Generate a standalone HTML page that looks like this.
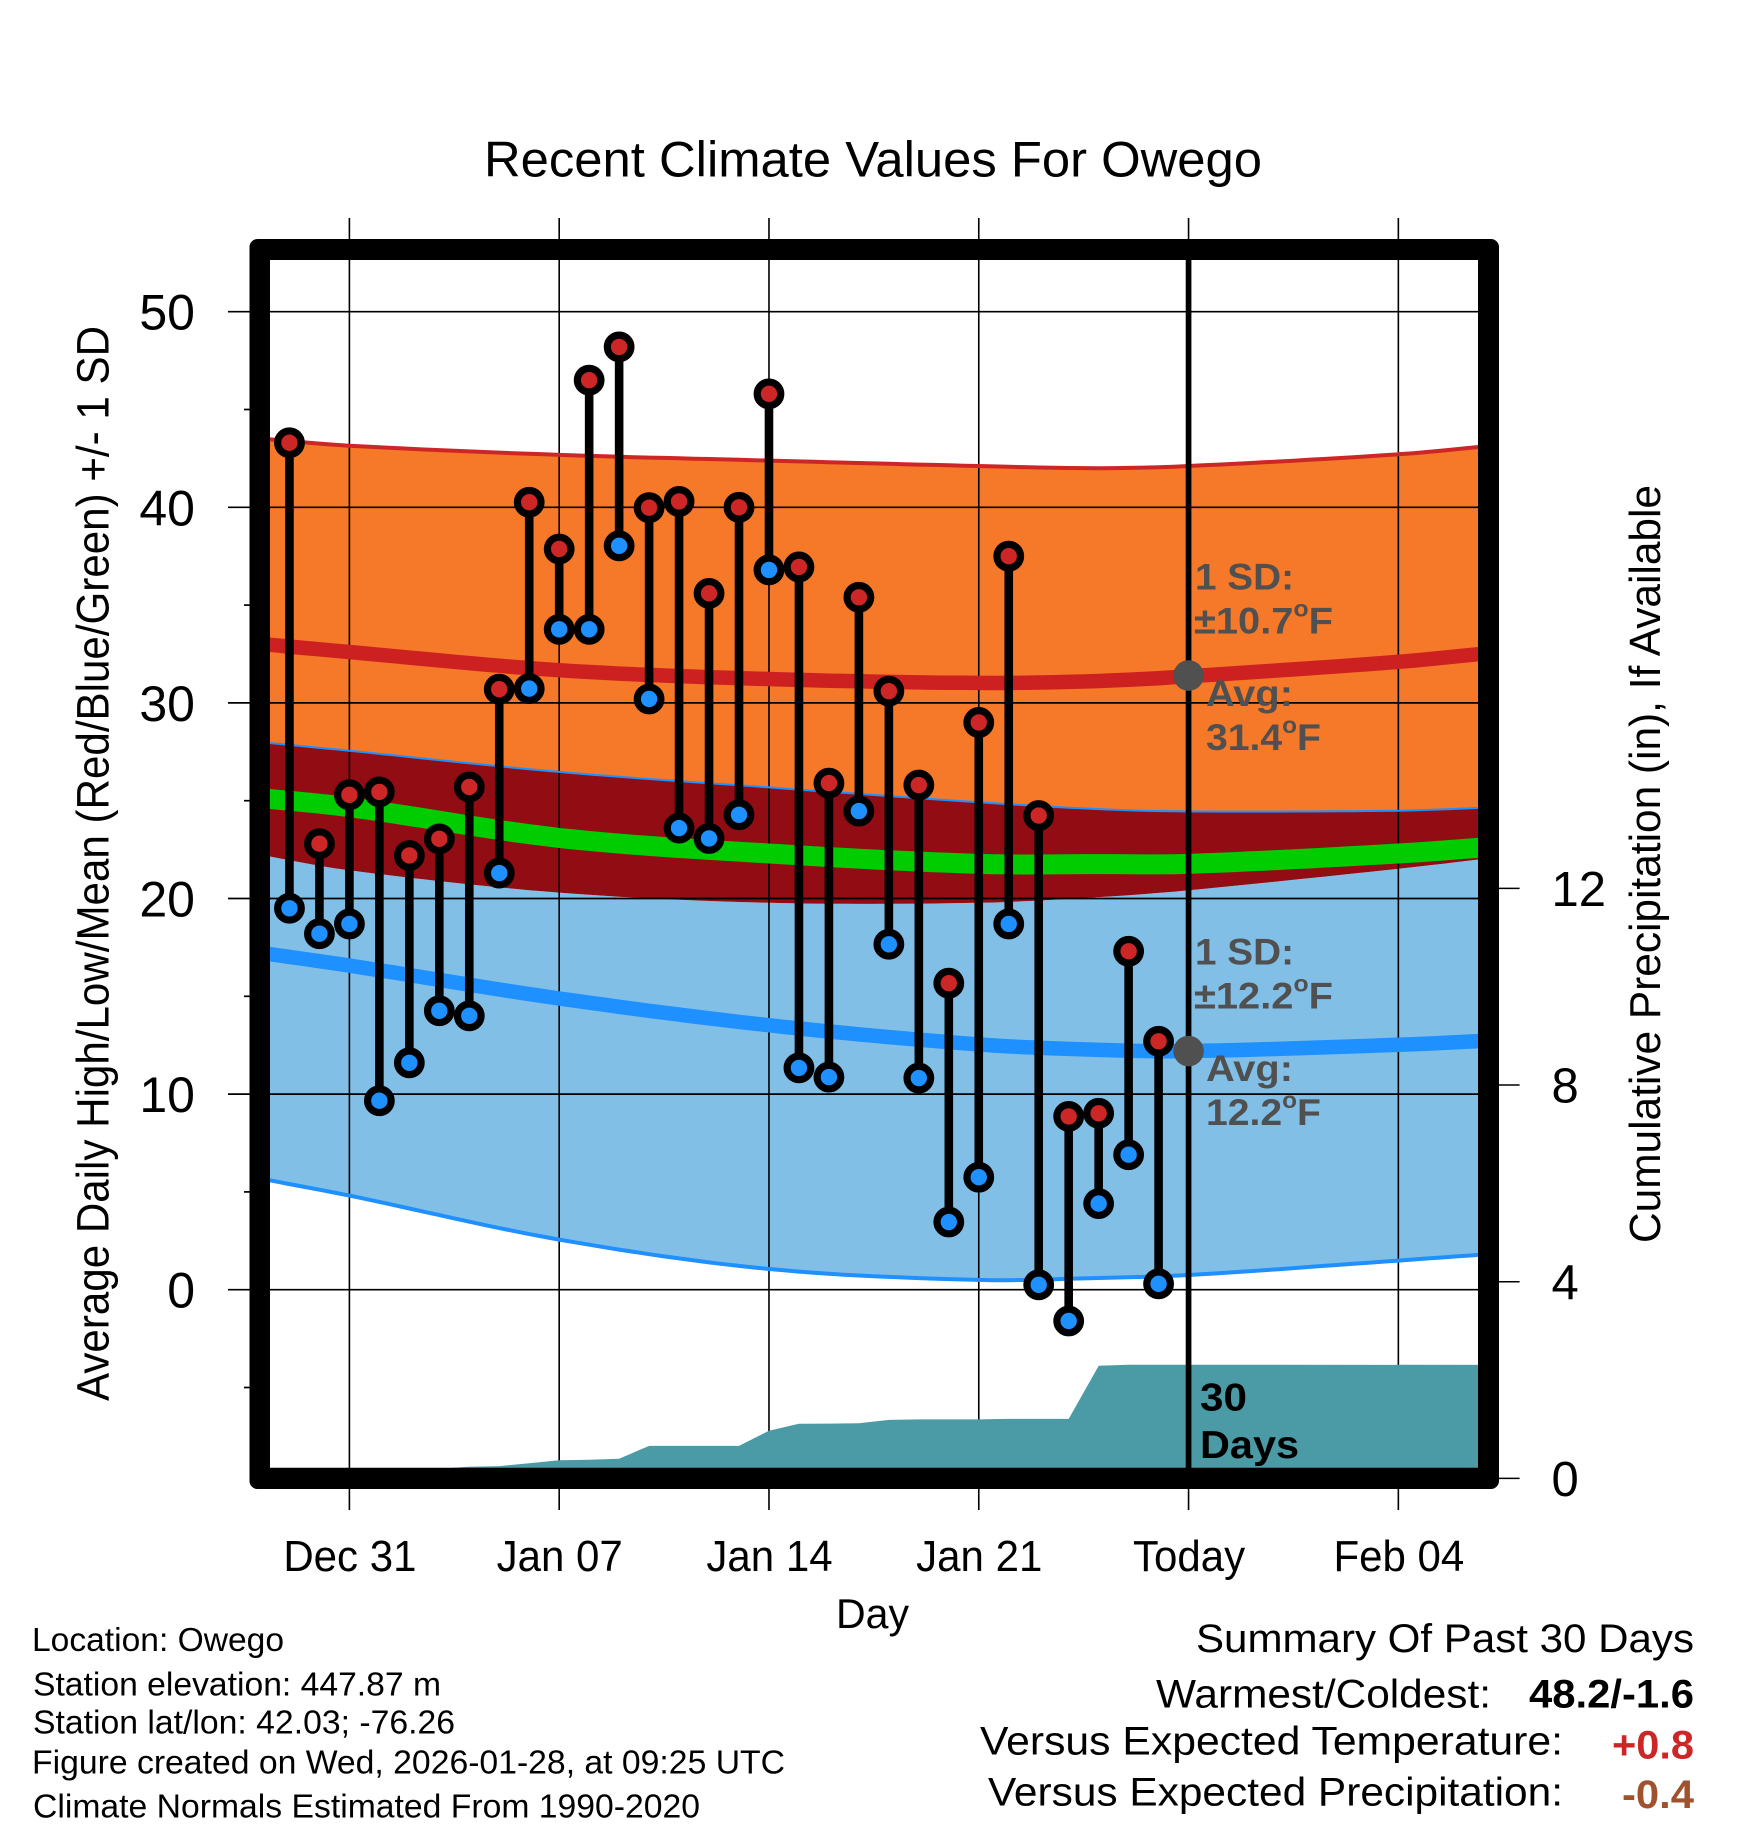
<!DOCTYPE html>
<html lang="en">
<head>
<meta charset="utf-8">
<title>Recent Climate Values For Owego</title>
<style>
html,body{margin:0;padding:0;background:#fff;}
svg{display:block;}
text{font-family:"Liberation Sans",Arial,sans-serif;fill:#000;}
.note{font-size:33px;}
.sum{font-size:40px;}
.sumb{font-size:40px;font-weight:bold;}
.ann{font-size:37px;font-weight:bold;fill:#505050;}
.sup{font-size:23px;}
</style>
</head>
<body>
<svg id="chart" xmlns="http://www.w3.org/2000/svg" width="1748" height="1828" viewBox="0 0 1748 1828">
  <rect x="0" y="0" width="1748" height="1828" fill="#ffffff"/>
  <g id="bands"></g>
  <g id="grid"></g>
  <g id="lines"></g>
  <g id="precip"></g>
  <g id="ticks"></g>
  <g id="today"></g>
  <g id="days"></g>
  <path fill="#000" fill-rule="evenodd" d="M257.5 239 H1491 a8 8 0 0 1 8 8 V1481 a8 8 0 0 1 -8 8 H257.5 a8 8 0 0 1 -8 -8 V247 a8 8 0 0 1 8 -8 Z M270 260 V1467.7 H1478 V260 Z"/>
  <g id="tick-labels"></g>

  <text x="484" y="176.5" font-size="50" textLength="778" lengthAdjust="spacingAndGlyphs">Recent Climate Values For Owego</text>
  <text transform="translate(108.3,1401) rotate(-90)" font-size="45" textLength="1075" lengthAdjust="spacingAndGlyphs">Average Daily High/Low/Mean (Red/Blue/Green) +/- 1 SD</text>
  <text transform="translate(1660,1243) rotate(-90)" font-size="44" textLength="758" lengthAdjust="spacingAndGlyphs">Cumulative Precipitation (in), If Available</text>
  <text x="836" y="1628" font-size="42" textLength="73" lengthAdjust="spacingAndGlyphs">Day</text>

  <text class="ann" x="1195" y="589.4" textLength="99" lengthAdjust="spacingAndGlyphs">1 SD:</text>
  <text class="ann" x="1194" y="633.4" textLength="139" lengthAdjust="spacingAndGlyphs">±10.7<tspan class="sup" dy="-17">o</tspan><tspan dy="17">F</tspan></text>
  <text class="ann" x="1206" y="706.2" textLength="87" lengthAdjust="spacingAndGlyphs">Avg:</text>
  <text class="ann" x="1206" y="750.2" textLength="115" lengthAdjust="spacingAndGlyphs">31.4<tspan class="sup" dy="-17">o</tspan><tspan dy="17">F</tspan></text>
  <text class="ann" x="1195" y="964.5" textLength="99" lengthAdjust="spacingAndGlyphs">1 SD:</text>
  <text class="ann" x="1194" y="1008.5" textLength="139" lengthAdjust="spacingAndGlyphs">±12.2<tspan class="sup" dy="-17">o</tspan><tspan dy="17">F</tspan></text>
  <text class="ann" x="1206" y="1081" textLength="87" lengthAdjust="spacingAndGlyphs">Avg:</text>
  <text class="ann" x="1206" y="1125" textLength="115" lengthAdjust="spacingAndGlyphs">12.2<tspan class="sup" dy="-17">o</tspan><tspan dy="17">F</tspan></text>

  <text x="1200" y="1410.6" font-size="39" font-weight="bold" textLength="47" lengthAdjust="spacingAndGlyphs">30</text>
  <text x="1200" y="1458" font-size="39" font-weight="bold" textLength="99" lengthAdjust="spacingAndGlyphs">Days</text>

  <text class="note" x="32" y="1651" textLength="252" lengthAdjust="spacingAndGlyphs">Location: Owego</text>
  <text class="note" x="33" y="1695.4" textLength="408" lengthAdjust="spacingAndGlyphs">Station elevation: 447.87 m</text>
  <text class="note" x="33" y="1733.6" textLength="422" lengthAdjust="spacingAndGlyphs">Station lat/lon: 42.03; -76.26</text>
  <text class="note" x="32" y="1773.3" textLength="753" lengthAdjust="spacingAndGlyphs">Figure created on Wed, 2026-01-28, at 09:25 UTC</text>
  <text class="note" x="33" y="1817.6" textLength="667" lengthAdjust="spacingAndGlyphs">Climate Normals Estimated From 1990-2020</text>

  <text class="sum" x="1196" y="1651.9" textLength="498" lengthAdjust="spacingAndGlyphs">Summary Of Past 30 Days</text>
  <text class="sum" x="1156" y="1707.4" textLength="335" lengthAdjust="spacingAndGlyphs">Warmest/Coldest:</text>
  <text class="sumb" x="1529" y="1707.4" textLength="165" lengthAdjust="spacingAndGlyphs">48.2/-1.6</text>
  <text class="sum" x="980" y="1754.5" textLength="583" lengthAdjust="spacingAndGlyphs">Versus Expected Temperature:</text>
  <text class="sumb" x="1612" y="1758.6" textLength="82" lengthAdjust="spacingAndGlyphs" style="fill:#cd2626">+0.8</text>
  <text class="sum" x="988" y="1805.7" textLength="575" lengthAdjust="spacingAndGlyphs">Versus Expected Precipitation:</text>
  <text class="sumb" x="1622" y="1807.8" textLength="72" lengthAdjust="spacingAndGlyphs" style="fill:#a0522d">-0.4</text>
</svg>

<script>
// Daily observations, first entry is two days before Dec 31
const firstDay = -2;
const dailyHigh = [43.3,22.8,25.3,25.45,22.2,23.05,25.7,30.7,40.26,37.87,46.5,48.2,39.98,40.3,35.6,40.0,45.8,36.95,25.9,35.4,30.6,25.8,15.67,29.0,37.5,24.24,8.86,9.02,17.3,12.7];
const dailyLow = [19.5,18.2,18.7,9.66,11.6,14.26,14.0,21.3,30.73,33.76,33.76,38.03,30.2,23.6,23.07,24.28,36.8,11.34,10.87,24.47,17.66,10.82,3.46,5.75,18.7,0.25,-1.6,4.4,6.9,0.3];
const dailyPrecip = [0,0,0,0,0,0.2,0.235,0.25,0.31,0.37,0.38,0.40,0.66,0.66,0.66,0.66,0.97,1.11,1.115,1.12,1.19,1.2,1.2,1.2,1.21,1.21,1.21,2.29,2.31,2.31];

// Climatology curves, days counted from Dec 31
const normalDays = [-3,0,7,14,21,25,28,35,38];
const highPlusSd = [43.52,43.15,42.68,42.39,42.11,42.0,42.11,42.71,43.13];
const highMean = [33.02,32.6,31.67,31.22,31.02,31.12,31.36,32.1,32.54];
const highMinusSd = [28.0,27.55,26.47,25.68,24.92,24.57,24.45,24.49,24.65];
const allMean = [25.14,24.67,23.1,22.3,21.77,21.76,21.77,22.3,22.63];
const lowPlusSd = [22.24,21.44,20.3,19.78,19.78,20.07,20.42,21.52,22.05];
const lowMean = [17.23,16.57,14.89,13.52,12.54,12.26,12.2,12.52,12.73];
const lowMinusSd = [5.69,4.81,2.56,1.06,0.5,0.6,0.75,1.49,1.82];

// Axis labels
const tempTicks = [0,10,20,30,40,50];
const tempMinorTicks = [-5,5,15,25,35,45];
const precipTicks = [0,4,8,12];
const dateTickDays = [0,7,14,21,28,35];
const dateTickLabels = ['Dec 31','Jan 07','Jan 14','Jan 21','Today','Feb 04'];
const todayDay = 28;
const todayHighMean = 31.4;
const todayLowMean = 12.2;

function xScale(day){ return 349.4 + 29.97 * day; }
function yScale(temp){ return 1289.7 - 19.56 * temp; }
function yPrecip(inches){ return 1478.4 - 49.17 * inches; }

const NS = 'http://www.w3.org/2000/svg';
function make(parentId, tag, attrs, txt){
  const el = document.createElementNS(NS, tag);
  for (const k in attrs) el.setAttribute(k, attrs[k]);
  if (txt !== undefined) el.textContent = txt;
  document.getElementById(parentId).appendChild(el);
  return el;
}
function hermite(vals, d){
  const n = normalDays.length;
  let i = 0;
  while (i < n - 2 && d > normalDays[i + 1]) i++;
  const slope = function(k){
    const a = Math.max(0, k - 1), b = Math.min(n - 1, k + 1);
    return (vals[b] - vals[a]) / (normalDays[b] - normalDays[a]);
  };
  const h = normalDays[i + 1] - normalDays[i];
  const t = (d - normalDays[i]) / h;
  const t2 = t * t, t3 = t2 * t;
  return (2*t3 - 3*t2 + 1) * vals[i] + (t3 - 2*t2 + t) * h * slope(i) + (-2*t3 + 3*t2) * vals[i + 1] + (t3 - t2) * h * slope(i + 1);
}
function curvePoints(vals){
  const pts = [];
  const start = normalDays[0], end = normalDays[normalDays.length - 1];
  for (let d = start; d <= end + 0.001; d += 0.5) {
    pts.push(xScale(d).toFixed(1) + ',' + yScale(hermite(vals, d)).toFixed(1));
  }
  return pts;
}
function bandPoints(upper, lower){
  return curvePoints(upper).concat(curvePoints(lower).reverse()).join(' ');
}

// Bands
const bandHigh = make('bands', 'polygon', {points: bandPoints(highPlusSd, highMinusSd), fill: '#f67829'});


const bandLow = make('bands', 'polygon', {points: bandPoints(lowPlusSd, lowMinusSd), fill: '#82bfe7'});


const bandOverlap = make('bands', 'polygon', {points: bandPoints(highMinusSd, lowPlusSd), fill: '#910c13'});



// Grid
tempTicks.forEach(function(v){
  const g = make('grid', 'line', {x1: 260, x2: 1488, y1: yScale(v), y2: yScale(v), stroke: '#000', 'stroke-width': 1.7});
  
  
});
dateTickDays.forEach(function(d){
  const g = make('grid', 'line', {x1: xScale(d), x2: xScale(d), y1: 218, y2: 1510, stroke: '#000', 'stroke-width': 1.6});
  
  
});

// Climate lines
function drawLine(vals, color, width, name){
  const l = make('lines', 'polyline', {points: curvePoints(vals).join(' '), fill: 'none', stroke: color, 'stroke-width': width});
  
  
}
drawLine(highPlusSd, '#cd2626', 4, 'high-plus-sd-line');
drawLine(highMinusSd, '#1e90ff', 2, 'high-minus-sd-line');
drawLine(lowMinusSd, '#1e90ff', 4, 'low-minus-sd-line');
drawLine(highMean, '#cd2121', 14.5, 'high-mean-line');
drawLine(allMean, '#00cc00', 20, 'mean-line');
drawLine(lowMean, '#1e90ff', 14.5, 'low-mean-line');

// Precipitation area (held flat after the last observation)
const lastPrecip = dailyPrecip[dailyPrecip.length - 1];
const precipPts = [xScale(firstDay - 1) + ',' + yPrecip(0)];
dailyPrecip.forEach(function(p, i){
  precipPts.push(xScale(firstDay + i).toFixed(1) + ',' + yPrecip(p).toFixed(1));
});
precipPts.push(xScale(38) + ',' + yPrecip(lastPrecip));
precipPts.push(xScale(38) + ',' + yPrecip(0));
const area = make('precip', 'polygon', {points: precipPts.join(' '), fill: '#4a9ba5'});



// Ticks
tempTicks.forEach(function(v){
  const t = make('ticks', 'line', {x1: 228, x2: 250, y1: yScale(v), y2: yScale(v), stroke: '#000', 'stroke-width': 1.7});
  
  
  const lb = make('tick-labels', 'text', {x: 195, y: yScale(v) + 18, 'font-size': 50, 'text-anchor': 'end'}, String(v));
  
  
});
tempMinorTicks.forEach(function(v){
  const t = make('ticks', 'line', {x1: 244, x2: 250, y1: yScale(v), y2: yScale(v), stroke: '#000', 'stroke-width': 1.7});
  
  
});
precipTicks.forEach(function(v){
  const t = make('ticks', 'line', {x1: 1498, x2: 1519.6, y1: yPrecip(v), y2: yPrecip(v), stroke: '#000', 'stroke-width': 1.5});
  
  
  const lb = make('tick-labels', 'text', {x: 1551.5, y: yPrecip(v) + 17.5, 'font-size': 49}, String(v));
  
  
});
dateTickDays.forEach(function(d, i){
  const lb = make('tick-labels', 'text', {x: xScale(d) + 0.5, y: 1571, 'font-size': 44, 'text-anchor': 'middle'}, dateTickLabels[i]);
  
  
  lb.setAttribute('textLength', (lb.getComputedTextLength() * 0.955).toFixed(1));
  lb.setAttribute('lengthAdjust', 'spacingAndGlyphs');
});

// Today line
const todayLine = make('today', 'line', {x1: xScale(todayDay), x2: xScale(todayDay), y1: 255, y2: 1475, stroke: '#000', 'stroke-width': 5.7});



// Daily stems and markers
dailyHigh.forEach(function(high, i){
  const x = xScale(firstDay + i);
  const stem = make('days', 'line', {x1: x, x2: x, y1: yScale(high), y2: yScale(dailyLow[i]), stroke: '#000', 'stroke-width': 8.6});
  
  
  const hi = make('days', 'circle', {cx: x, cy: yScale(high), r: 11.8, fill: '#cd2626', stroke: '#000', 'stroke-width': 7.2});
  
  
  const lo = make('days', 'circle', {cx: x, cy: yScale(dailyLow[i]), r: 11.8, fill: '#1e90ff', stroke: '#000', 'stroke-width': 7.2});
  
  
});

// Today normals
const dotHigh = make('days', 'circle', {cx: xScale(todayDay), cy: yScale(todayHighMean), r: 15.3, fill: '#505050'});


const dotLow = make('days', 'circle', {cx: xScale(todayDay), cy: yScale(todayLowMean), r: 15.3, fill: '#505050'});


</script>
</body>
</html>
